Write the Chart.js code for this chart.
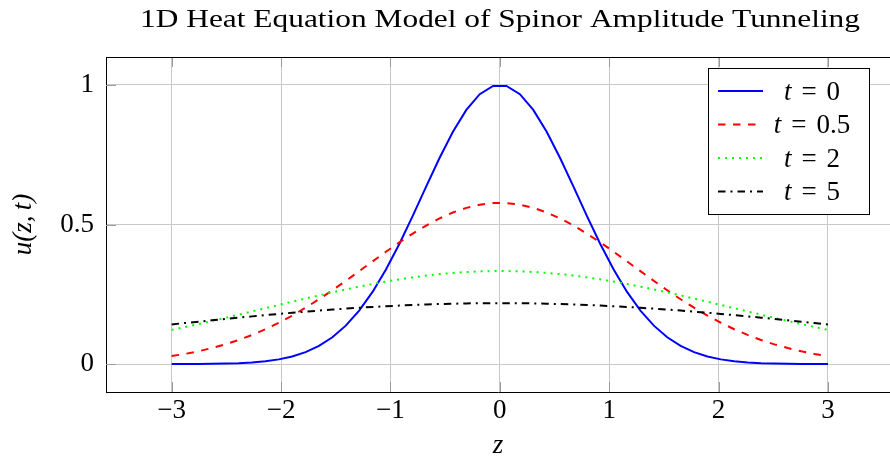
<!DOCTYPE html>
<html>
<head>
<meta charset="utf-8">
<script src="https://cdn.jsdelivr.net/npm/chart.js@4/dist/chart.umd.min.js"></script>
<style>
	html, body { margin: 0; padding: 0; background: #fff; }
	canvas { display: block; }
</style>
</head>
<body>
<canvas id="heatChart" width="890" height="459"></canvas>
<script>
let titleText = '1D Heat Equation Model of Spinor Amplitude Tunneling';
let xTicks = [-3, -2, -1, 0, 1, 2, 3];
let yTicks = [0, 0.5, 1];
let seriesLabels = ['0', '0.5', '2', '5'];

let zVals = [
	-3, -2.8776, -2.7551, -2.6327, -2.5102, -2.3878, -2.2653, -2.1429, -2.0204, -1.898,
	-1.7755, -1.6531, -1.5306, -1.4082, -1.2857, -1.1633, -1.0408, -0.9184, -0.7959, -0.6735,
	-0.551, -0.4286, -0.3061, -0.1837, -0.0612, 0.0612, 0.1837, 0.3061, 0.4286, 0.551,
	0.6735, 0.7959, 0.9184, 1.0408, 1.1633, 1.2857, 1.4082, 1.5306, 1.6531, 1.7755,
	1.898, 2.0204, 2.1429, 2.2653, 2.3878, 2.5102, 2.6327, 2.7551, 2.8776, 3,
];
let uT0 = [
	0.0001, 0.0003, 0.0005, 0.001, 0.0018, 0.0033, 0.0059, 0.0101, 0.0169, 0.0273,
	0.0427, 0.0651, 0.0961, 0.1377, 0.1915, 0.2584, 0.3385, 0.4302, 0.5308, 0.6354,
	0.7382, 0.8322, 0.9105, 0.9668, 0.9963, 0.9963, 0.9668, 0.9105, 0.8322, 0.7382,
	0.6354, 0.5308, 0.4302, 0.3385, 0.2584, 0.1915, 0.1377, 0.0961, 0.0651, 0.0427,
	0.0273, 0.0169, 0.0101, 0.0059, 0.0033, 0.0018, 0.001, 0.0005, 0.0003, 0.0001,
];
let uT05 = [
	0.0287, 0.0365, 0.046, 0.0573, 0.0707, 0.0863, 0.1044, 0.1249, 0.1481, 0.1738,
	0.2019, 0.2322, 0.2644, 0.2981, 0.3328, 0.3677, 0.4024, 0.4358, 0.4674, 0.4963,
	0.5218, 0.5431, 0.5596, 0.5709, 0.5766, 0.5766, 0.5709, 0.5596, 0.5431, 0.5218,
	0.4963, 0.4674, 0.4358, 0.4024, 0.3677, 0.3328, 0.2981, 0.2644, 0.2322, 0.2019,
	0.1738, 0.1481, 0.1249, 0.1044, 0.0863, 0.0707, 0.0573, 0.046, 0.0365, 0.0287,
];
let uT2 = [
	0.1226, 0.1328, 0.1434, 0.1543, 0.1655, 0.1769, 0.1885, 0.2001, 0.2118, 0.2234,
	0.2348, 0.246, 0.2569, 0.2674, 0.2774, 0.2868, 0.2955, 0.3035, 0.3107, 0.317,
	0.3223, 0.3266, 0.3299, 0.3321, 0.3332, 0.3332, 0.3321, 0.3299, 0.3266, 0.3223,
	0.317, 0.3107, 0.3035, 0.2955, 0.2868, 0.2774, 0.2674, 0.2569, 0.246, 0.2348,
	0.2234, 0.2118, 0.2001, 0.1885, 0.1769, 0.1655, 0.1543, 0.1434, 0.1328, 0.1226,
];
let uT5 = [
	0.1422, 0.1471, 0.152, 0.1569, 0.1617, 0.1663, 0.1709, 0.1754, 0.1797, 0.1838,
	0.1878, 0.1916, 0.1952, 0.1986, 0.2017, 0.2046, 0.2073, 0.2096, 0.2117, 0.2136,
	0.2151, 0.2163, 0.2173, 0.2179, 0.2182, 0.2182, 0.2179, 0.2173, 0.2163, 0.2151,
	0.2136, 0.2117, 0.2096, 0.2073, 0.2046, 0.2017, 0.1986, 0.1952, 0.1916, 0.1878,
	0.1838, 0.1797, 0.1754, 0.1709, 0.1663, 0.1617, 0.1569, 0.152, 0.1471, 0.1422,
];

const SERIF = '"Liberation Serif", "Times New Roman", serif';

function pts(ys) {
	return zVals.map((z, i) => ({ x: z, y: ys[i] }));
}

function fmtTick(v) {
	return v < 0 ? '\u2212' + Math.abs(v) : String(v);
}

// frame, inner tick marks, title and the boxed legend
const decorPlugin = {
	id: 'decor',
	afterDraw(chart) {
		const ctx = chart.ctx;
		const a = chart.chartArea;
		const xs = chart.scales.x;
		const ys = chart.scales.y;

		ctx.save();
		// inward tick marks
		ctx.strokeStyle = '#9a9a9a';
		ctx.lineWidth = 1;
		ctx.beginPath();
		xTicks.forEach((v) => {
			const px = Math.round(xs.getPixelForValue(v)) + 0.5;
			ctx.moveTo(px, a.bottom);
			ctx.lineTo(px, a.bottom - 10);
			ctx.moveTo(px, a.top);
			ctx.lineTo(px, a.top + 10);
		});
		yTicks.forEach((v) => {
			const py = Math.round(ys.getPixelForValue(v)) + 0.5;
			ctx.moveTo(a.left, py);
			ctx.lineTo(a.left + 10, py);
		});
		ctx.stroke();

		// top frame line
		ctx.strokeStyle = '#000';
		ctx.beginPath();
		ctx.moveTo(a.left, Math.round(a.top) + 0.5);
		ctx.lineTo(a.right, Math.round(a.top) + 0.5);
		ctx.stroke();

		// title
		ctx.fillStyle = '#000';
		ctx.font = '26px ' + SERIF;
		ctx.textAlign = 'center';
		ctx.textBaseline = 'alphabetic';
		const tw = ctx.measureText(titleText).width;
		ctx.save();
		ctx.translate(500, 27);
		ctx.scale(720 / tw, 1);
		ctx.fillText(titleText, 0, 0);
		ctx.restore();

		// legend
		const bx = 708.5, by = 68.5, bw = 161, bh = 146;
		ctx.fillStyle = '#fff';
		ctx.fillRect(bx, by, bw, bh);
		ctx.strokeStyle = '#000';
		ctx.lineWidth = 1;
		ctx.strokeRect(bx, by, bw, bh);
		const rows = [91, 124.5, 158, 191.5];
		chart.data.datasets.forEach((ds, i) => {
			const ry = rows[i];
			ctx.strokeStyle = ds.borderColor;
			ctx.lineWidth = ds.borderWidth;
			ctx.setLineDash(ds.borderDash || []);
			ctx.beginPath();
			ctx.moveTo(718, ry);
			ctx.lineTo(763, ry);
			ctx.stroke();
			ctx.setLineDash([]);

			ctx.fillStyle = '#000';
			ctx.textAlign = 'left';
			const itFont = 'italic 27px ' + SERIF;
			const upFont = '27px ' + SERIF;
			ctx.font = itFont;
			const wt = ctx.measureText('t').width;
			ctx.font = upFont;
			const we = ctx.measureText('=').width;
			const wn = ctx.measureText(seriesLabels[i]).width;
			const gap = 10;
			const total = wt + gap + we + gap + wn;
			let x0 = 812 - total / 2;
			const base = ry + 8.5;
			ctx.font = itFont;
			ctx.fillText('t', x0, base);
			x0 += wt + gap;
			ctx.font = upFont;
			ctx.fillText('=', x0, base);
			x0 += we + gap;
			ctx.fillText(seriesLabels[i], x0, base);
		});
		ctx.restore();
	},
};

let charts = [];
function buildChart() {
	let el = document.getElementById('heatChart');
	charts.push(
		new Chart(el, {
			type: 'line',
			data: {
				datasets: [
					{
						label: 't = 0',
						data: pts(uT0),
						borderColor: '#0000ff',
						borderWidth: 2,
						order: 4,
					},
					{
						label: 't = 0.5',
						data: pts(uT05),
						borderColor: '#ff0000',
						borderWidth: 2,
						borderDash: [7.5, 7.5],
						order: 3,
					},
					{
						label: 't = 2',
						data: pts(uT2),
						borderColor: '#00ff00',
						borderWidth: 2,
						borderDash: [2, 5],
						order: 2,
					},
					{
						label: 't = 5',
						data: pts(uT5),
						borderColor: '#000000',
						borderWidth: 2,
						borderDash: [7.5, 5, 2, 5],
						order: 1,
					},
				],
			},
			options: {
				responsive: false,
				animation: false,
				devicePixelRatio: 1,
				layout: { padding: { top: 57, left: 0, right: 0, bottom: 0 } },
				elements: {
					point: { radius: 0 },
					line: { tension: 0, fill: false },
				},
				plugins: {
					legend: { display: false },
					title: { display: false },
					tooltip: { enabled: false },
				},
				scales: {
					x: {
						type: 'linear',
						min: -3.6,
						max: 3.567,
						afterBuildTicks: (s) => {
							s.ticks = xTicks.map((v) => ({ value: v }));
						},
						afterFit: (s) => {
							s.height = 67;
						},
						grid: { color: '#c8c8c8', lineWidth: 1, drawTicks: false },
						border: { display: true, color: '#000', width: 1 },
						ticks: {
							padding: 3,
							color: '#000',
							font: { family: SERIF, size: 27 },
							maxRotation: 0,
							callback: (v) => fmtTick(v),
						},
						title: {
							display: true,
							text: 'z',
							color: '#000',
							font: { family: SERIF, size: 27, style: 'italic', lineHeight: 1 },
							padding: 0,
						},
					},
					y: {
						type: 'linear',
						min: -0.1,
						max: 1.1,
						afterBuildTicks: (s) => {
							s.ticks = yTicks.map((v) => ({ value: v }));
						},
						afterFit: (s) => {
							s.width = 106;
						},
						grid: { color: '#c8c8c8', lineWidth: 1, drawTicks: false },
						border: { display: true, color: '#000', width: 1 },
						ticks: {
							padding: 12,
							color: '#000',
							font: { family: SERIF, size: 27 },
							callback: (v) => String(v),
						},
						title: {
							display: true,
							text: 'u(z,\u2009t)',
							color: '#000',
							font: { family: SERIF, size: 27, style: 'italic', lineHeight: 1 },
							padding: { top: 10, bottom: 10 },
						},
					},
				},
			},
			plugins: [decorPlugin],
		})
	);
}

buildChart();
</script>
</body>
</html>
